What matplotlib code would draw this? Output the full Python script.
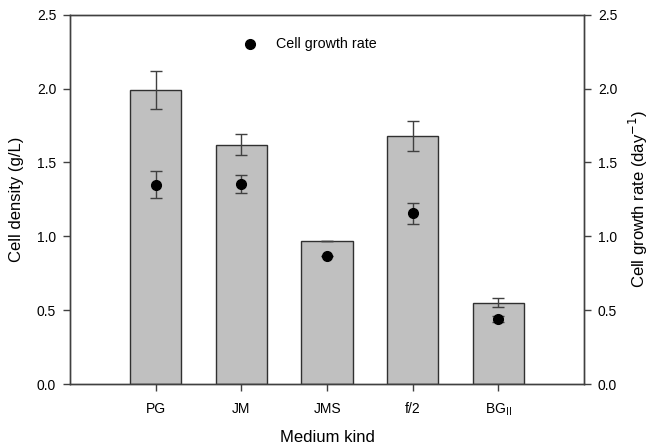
import matplotlib.pyplot as plt
import numpy as np

plt.rcParams['font.family'] = ['Liberation Sans', 'DejaVu Sans']

# medium kinds and measured values
medium = ['PG', 'JM', 'JMS', 'f/2', 'BG$_{\\mathrm{II}}$']
density = [1.99, 1.62, 0.97, 1.68, 0.55]
density_err = [0.13, 0.07, 0.0, 0.10, 0.03]
growth = [1.35, 1.355, 0.865, 1.155, 0.44]
growth_err = [0.09, 0.06, 0.0, 0.07, 0.02]

x = np.arange(len(medium))
axcol = '#404040'

fig = plt.figure(figsize=(6.49, 4.45), dpi=100)
ax = fig.add_axes([0.108, 0.137, 0.792, 0.83])
ax.bar(x, density, width=0.6, color='#c0c0c0', edgecolor='#303030', linewidth=1.0, zorder=2)
ax.errorbar(x, density, yerr=density_err, fmt='none', ecolor=axcol, elinewidth=1.0,
            capsize=4.3, capthick=1.0, zorder=3)
ax.set_xlim(-1, 5)
ax.set_ylim(0, 2.5)
ax.set_yticks(np.arange(0, 2.51, 0.5))
ax.set_xticks(x)
ax.set_xticklabels(medium)
ax.set_ylabel('Cell density (g/L)', fontsize=12, labelpad=9)
ax.set_xlabel('Medium kind', fontsize=12, labelpad=8)

ax2 = ax.twinx()
ax2.errorbar(x, growth, yerr=growth_err, fmt='o', color='black', ms=7, ecolor=axcol,
             elinewidth=1.0, capsize=4.3, capthick=1.0, zorder=4)
ax2.set_ylim(0, 2.5)
ax2.set_yticks(np.arange(0, 2.51, 0.5))
ax2.set_ylabel('Cell growth rate (day$^{-1}$)', fontsize=12, labelpad=7)

for a in (ax, ax2):
    for s in a.spines.values():
        s.set_color(axcol)
        s.set_linewidth(1.0)
    a.tick_params(direction='out', length=5, width=1.0, color=axcol, labelsize=10, pad=5)
    a.yaxis.set_major_formatter(plt.FormatStrFormatter('%.1f'))
ax.tick_params(axis='x', pad=8)

ax2.plot([0.35], [0.92], 'o', color='black', ms=7, transform=ax2.transAxes, clip_on=False)
ax2.text(0.40, 0.92, 'Cell growth rate', transform=ax2.transAxes, va='center', fontsize=10.3)

fig.savefig('out.png', dpi=100)
